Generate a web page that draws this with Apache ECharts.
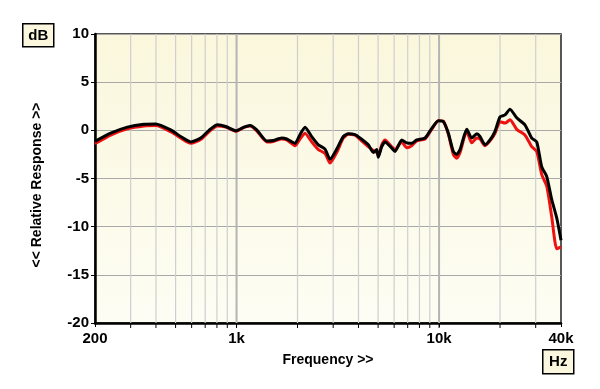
<!DOCTYPE html>
<html>
<head>
<meta charset="utf-8">
<script src="https://cdn.jsdelivr.net/npm/echarts@6/dist/echarts.min.js"></script>
<style>html,body{margin:0;padding:0;background:#fff}#c{width:600px;height:389px}</style>
</head>
<body>
<div id="c"></div>
<script>
var freqs = [200,239,289,349,399,473,530,594,665,731,804,884,991,1088,1166,1258,1409,1519,1671,1769,1944,2057,2178,2350,2534,2735,2894,3123,3368,3564,3846,4071,4474,4736,4922,5012,5210,5408,5838,6060,6541,6923,7328,7758,8525,9198,9916,10496,11112,11762,12226,12694,13700,14500,15350,15920,16860,17840,18890,20000,21170,22400,24180,26580,28680,30360,32140,34020,36010,38110,40000];
var blackDb = [-1.15,-0.3,0.33,0.64,0.67,0.05,-0.64,-1.2,-0.8,0,0.57,0.4,-0.05,0.33,0.5,0.05,-1.1,-1.05,-0.8,-0.9,-1.35,-0.45,0.33,-0.65,-1.5,-1.95,-3.0,-1.95,-0.64,-0.36,-0.45,-0.8,-1.5,-2.3,-2.0,-2.8,-1.7,-1.2,-1.85,-2.2,-1.0,-1.3,-1.35,-1.0,-0.8,0.2,1.0,0.9,-0.3,-2.2,-2.5,-2.0,0.1,-0.8,-0.36,-0.64,-1.5,-1.0,-0.1,1.4,1.6,2.2,1.3,0.55,-0.8,-1.2,-3.8,-4.8,-7.2,-9.1,-11.4];
var redDb = [-1.4,-0.5,0.15,0.45,0.5,-0.15,-0.8,-1.35,-0.95,-0.15,0.45,0.35,-0.1,0.3,0.45,-0.05,-1.2,-1.15,-0.9,-1.0,-1.6,-0.9,-0.3,-1.2,-2.0,-2.4,-3.4,-2.3,-0.8,-0.4,-0.5,-0.95,-1.7,-2.1,-2.3,-2.6,-1.5,-1.0,-1.7,-2.0,-1.2,-1.8,-1.6,-1.1,-0.9,0.1,1.0,0.95,-0.4,-2.5,-2.9,-2.3,-0.1,-1.3,-0.8,-0.9,-1.6,-1.1,-0.3,0.9,0.75,1.1,0.1,-0.5,-1.7,-2.2,-4.6,-5.8,-9.0,-12.3,-12.1];
var gridFreqs = [300,400,500,600,700,800,900,1000,2000,3000,4000,5000,6000,7000,8000,9000,10000,20000,30000];
var xLabels = {200:'200',1000:'1k',10000:'10k',40000:'40k'};

function pairs(xs, ys){ return xs.map(function(x,i){return [x, ys[i]];}); }

var FONT = '"Liberation Sans", Arial, sans-serif';
var chart = echarts.init(document.getElementById('c'), null, {renderer:'canvas'});
chart.setOption({
  animation: false,
  grid: {left: 95, top: 34, right: 39, bottom: 66, show: true, borderColor: '#222', borderWidth: 1.5,
    backgroundColor: {type:'linear', x:0, y:0, x2:0, y2:1, colorStops:[{offset:0,color:'#faf7dc'},{offset:1,color:'#fdfdf4'}]}},
  xAxis: {type: 'log', logBase: 10, min: 200, max: 40000,
    axisLine: {onZero: false, lineStyle: {color: '#000', width: 2.5}},
    axisTick: {show: true, length: 4, lineStyle: {color: '#000', width: 1}},
    splitLine: {show: false}, minorTick: {show: false},
    axisLabel: {color: '#000', fontWeight: 'bold', fontSize: 15, fontFamily: FONT, margin: 8,
      formatter: function(v){ var r = Math.round(v); return xLabels[r] !== undefined ? xLabels[r] : ''; }}
  },
  yAxis: {type: 'value', min: -20, max: 10, interval: 5,
    axisLine: {show: true, onZero: false, lineStyle: {color: '#000', width: 2.5}},
    axisTick: {show: true, length: 4, lineStyle: {color: '#000'}},
    splitLine: {show: true, lineStyle: {color: '#a8a8a8', width: 1}},
    axisLabel: {color: '#000', fontWeight: 'bold', fontSize: 15, fontFamily: FONT, margin: 6}
  },
  series: [
    {type: 'custom', z: 1, clip: false, silent: true,
      data: gridFreqs.map(function(f){return [f, 0];}),
      renderItem: function(params, api){
        var f = api.value(0);
        var top = api.coord([f, 10]);
        var bot = api.coord([f, -20]);
        var major = (f === 1000 || f === 10000);
        return {type: 'group', children: [
          {type: 'line', shape: {x1: top[0], y1: top[1], x2: bot[0], y2: bot[1]},
            style: {stroke: major ? '#b4b4b4' : '#cfcfcf', lineWidth: major ? 2 : 1.2}},
          {type: 'line', shape: {x1: bot[0], y1: bot[1] + 1, x2: bot[0], y2: bot[1] + 5},
            style: {stroke: '#000', lineWidth: 1}}
        ]};
      }
    },
    {type: 'line', name: 'red', z: 3, data: pairs(freqs, redDb), showSymbol: false, smooth: 0.2,
      lineStyle: {color: '#ee1111', width: 3}},
    {type: 'line', name: 'black', z: 4, data: pairs(freqs, blackDb), showSymbol: false, smooth: 0.2,
      lineStyle: {color: '#000', width: 3}}
  ],
  graphic: [
    {type: 'group', left: 22, top: 23, children: [
      {type: 'rect', shape: {x: 0, y: 0, width: 31, height: 23}, style: {fill: '#faf7de', stroke: '#000', lineWidth: 1.5}},
      {type: 'text', x: 15.5, y: 12, style: {text: 'dB', fill: '#000', font: 'bold 15px ' + FONT, textAlign: 'center', textVerticalAlign: 'middle'}}
    ]},
    {type: 'group', left: 542, top: 349, children: [
      {type: 'rect', shape: {x: 0, y: 0, width: 31, height: 24}, style: {fill: '#faf7de', stroke: '#000', lineWidth: 1.5}},
      {type: 'text', x: 15.5, y: 12.5, style: {text: 'Hz', fill: '#000', font: 'bold 15px ' + FONT, textAlign: 'center', textVerticalAlign: 'middle'}}
    ]},
    {type: 'text', x: 328, y: 360, style: {text: 'Frequency >>', fill: '#000', font: 'bold 14px ' + FONT, textAlign: 'center', textVerticalAlign: 'middle'}},
    {type: 'text', x: 37, y: 185, rotation: Math.PI / 2, style: {text: '<< Relative Response >>', fill: '#000', font: 'bold 14px ' + FONT, textAlign: 'center', textVerticalAlign: 'middle'}}
  ]
});
</script>
</body>
</html>
